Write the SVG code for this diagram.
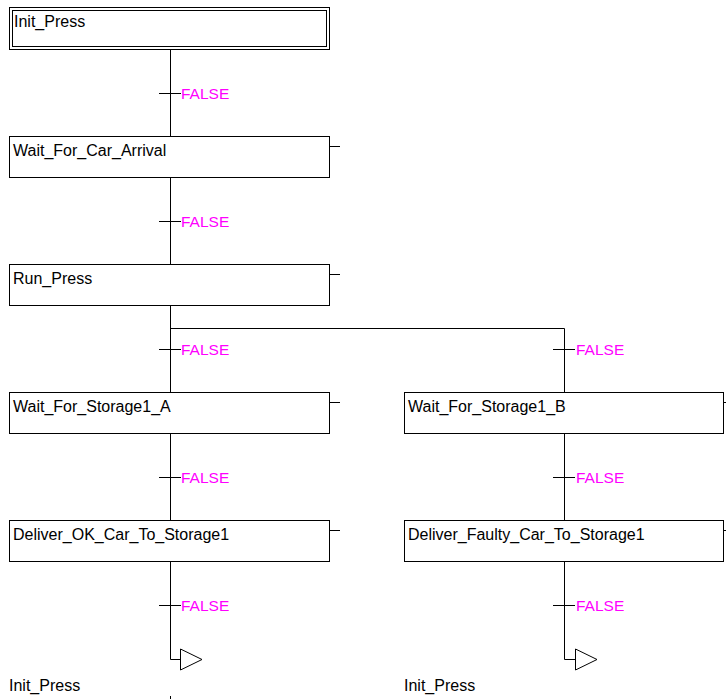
<svg xmlns="http://www.w3.org/2000/svg" width="726" height="699" viewBox="0 0 726 699">
<style>
.box{fill:#fff;stroke:#000;stroke-width:1}
.ln{fill:none;stroke:#000;stroke-width:1}
.tri{fill:#fff;stroke:#000;stroke-width:1}
.lbl{font-family:"Liberation Sans",Arial,sans-serif;font-size:16px;fill:#000}
.cond{font-family:"Liberation Sans",Arial,sans-serif;font-size:15.5px;fill:#ff00ff}
</style>
<rect width="726" height="699" fill="#fff"/>
<g id="connectors">
  <path class="ln" d="M170.5 49.5V136.5M170.5 177.5V264.5M170.5 305.5V392.5M170.5 433.5V520.5M170.5 561.5V659.5H180.5"/>
  <path class="ln" d="M170.5 328.5H564.5V392.5M564.5 433.5V520.5M564.5 561.5V659.5H575.5"/>
  <path class="ln" d="M329.5 146.5H340M329.5 274.5H340M329.5 402.5H340M329.5 530.5H340M723.5 402.5H726M723.5 530.5H726"/>
  <path class="ln" d="M170.5 696V699"/>
</g>
<g id="t1"><path class="ln" d="M159 93.5H181"/><text class="cond" x="181" y="99">FALSE</text></g>
<g id="t2"><path class="ln" d="M159 221.5H181"/><text class="cond" x="181" y="227">FALSE</text></g>
<g id="t3"><path class="ln" d="M159 349.5H181"/><text class="cond" x="181" y="355">FALSE</text></g>
<g id="t4"><path class="ln" d="M159 477.5H181"/><text class="cond" x="181" y="483">FALSE</text></g>
<g id="t5"><path class="ln" d="M159 605.5H181"/><text class="cond" x="181" y="611">FALSE</text></g>
<g id="t6"><path class="ln" d="M553 349.5H575"/><text class="cond" x="576" y="355">FALSE</text></g>
<g id="t7"><path class="ln" d="M553 477.5H575"/><text class="cond" x="576" y="483">FALSE</text></g>
<g id="t8"><path class="ln" d="M553 605.5H575"/><text class="cond" x="576" y="611">FALSE</text></g>
<g id="Init_Press">
  <rect class="box" x="9.5" y="7.5" width="320" height="42"/>
  <rect class="box" x="12.5" y="10.5" width="314" height="36"/>
  <text class="lbl" x="14" y="27">Init_Press</text>
</g>
<g id="Wait_For_Car_Arrival">
  <rect class="box" x="9.5" y="136.5" width="320" height="41"/>
  <text class="lbl" x="13" y="156">Wait_For_Car_Arrival</text>
</g>
<g id="Run_Press">
  <rect class="box" x="9.5" y="264.5" width="320" height="41"/>
  <text class="lbl" x="13" y="284">Run_Press</text>
</g>
<g id="Wait_For_Storage1_A">
  <rect class="box" x="9.5" y="392.5" width="320" height="41"/>
  <text class="lbl" x="13" y="412">Wait_For_Storage1_A</text>
</g>
<g id="Deliver_OK_Car_To_Storage1">
  <rect class="box" x="9.5" y="520.5" width="320" height="41"/>
  <text class="lbl" x="13" y="540">Deliver_OK_Car_To_Storage1</text>
</g>
<g id="Wait_For_Storage1_B">
  <rect class="box" x="404.5" y="392.5" width="319" height="41"/>
  <text class="lbl" x="408" y="412">Wait_For_Storage1_B</text>
</g>
<g id="Deliver_Faulty_Car_To_Storage1">
  <rect class="box" x="404.5" y="520.5" width="319" height="41"/>
  <text class="lbl" x="408" y="540">Deliver_Faulty_Car_To_Storage1</text>
</g>
<g id="jump_A">
  <path class="tri" d="M180.5 649V670L202 659.5Z"/>
  <text class="lbl" x="9" y="691">Init_Press</text>
</g>
<g id="jump_B">
  <path class="tri" d="M575.5 649V670L597 659.5Z"/>
  <text class="lbl" x="404" y="691">Init_Press</text>
</g>
</svg>
